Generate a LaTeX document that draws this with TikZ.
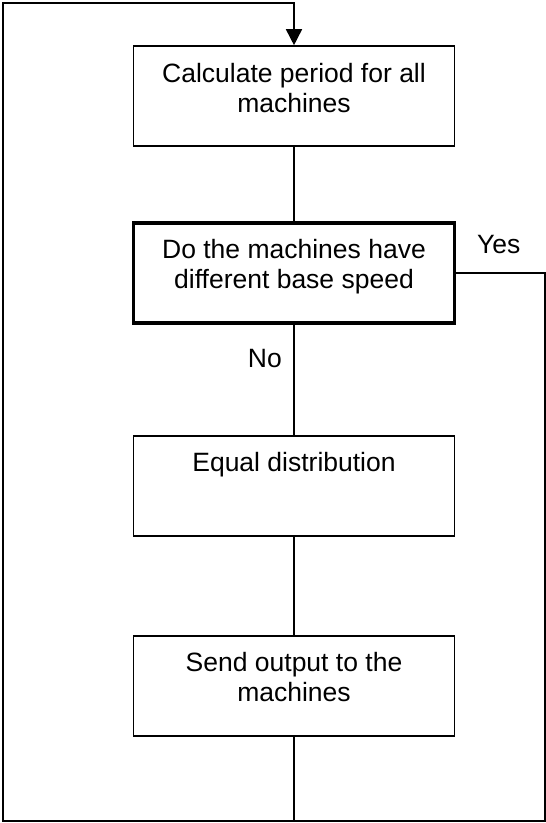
\documentclass[tikz,border=0pt]{standalone}
\usepackage{fontspec}
\setmainfont{Liberation Sans}
\usetikzlibrary{arrows.meta}
\begin{document}
\begin{tikzpicture}[x=1pt,y=-1pt,
  flow/.style={line width=1.6pt},
  stepbox/.style={draw, line width=1.6pt, minimum width=321pt, minimum height=100pt, inner sep=0pt},
  decisionbox/.style={stepbox, line width=3.4pt},
  boxtext/.style={anchor=north, align=center, inner sep=0pt, font=\fontsize{26.5}{30}\selectfont},
  lbl/.style={inner sep=0pt, font=\fontsize{26.5}{30}\selectfont}]
\useasboundingbox (0,0) rectangle (546,823);

% boxes
\node[stepbox] (calc) at (294,96) {};
\node[decisionbox] (diff) at (294,273) {};
\node[stepbox] (equal) at (294,486) {};
\node[stepbox] (send) at (294,686) {};

% box texts
\node[boxtext] (calcT) at ([yshift=-18pt]calc.north) {Calculate period for all\\machines};
\node[boxtext] (diffT) at ([yshift=-18pt]diff.north) {Do the machines have\\different base speed};
\node[boxtext] (equalT) at ([yshift=-17pt]equal.north) {Equal distribution};
\node[boxtext] (sendT) at ([yshift=-17pt]send.north) {Send output to the\\machines};

% loop corners
\coordinate (bm) at (294,821);
\coordinate (bl) at (3,821);
\coordinate (tl) at (3,3);
\coordinate (tm) at (294,3);
\coordinate (yr) at (545,273);
\coordinate (br) at (545,821);

% connectors
\draw[flow] (calc.south) -- (diff.north);
\draw[flow] (diff.south) -- (equal.north);
\draw[flow] (equal.south) -- (send.north);
\draw[flow] (send.south) -- (bm);
\draw[flow] (diff.east) -- (yr) -- (br) -- (bl);
\draw[flow, -{Triangle[length=16pt,width=16pt]}] (bm) -- (bl) -- (tl) -- (tm) -- (calc.north);

% branch labels
\node[lbl, anchor=base west] (yes) at (477,253) {Yes};
\node[lbl, anchor=base east] (no) at (282,367) {No};
\end{tikzpicture}
\end{document}
